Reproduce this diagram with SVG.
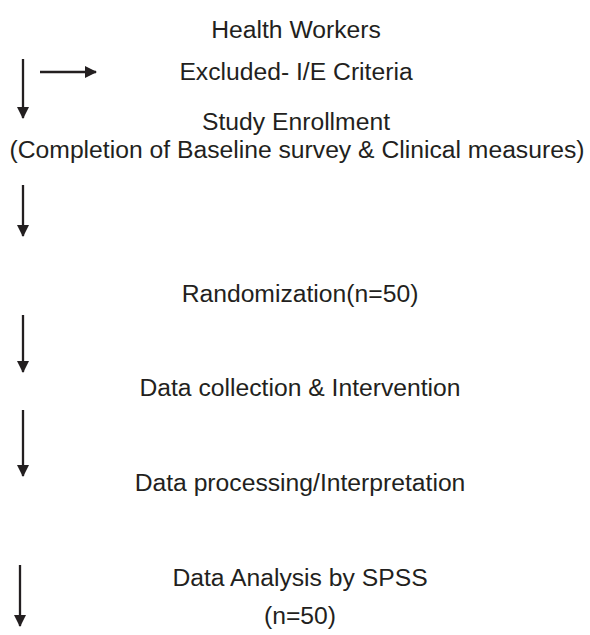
<svg xmlns="http://www.w3.org/2000/svg" width="590" height="635" viewBox="0 0 590 635">
<defs>
<marker id="ah" markerWidth="12" markerHeight="12" refX="11" refY="6" orient="auto" markerUnits="userSpaceOnUse">
<path d="M0,0 L12,6 L0,12 Z" fill="#231f20"/>
</marker>
<style>
text{font-family:"Liberation Sans",Arial,sans-serif;font-size:24.7px;fill:#231f20;text-anchor:middle}
.c{stroke:#231f20;stroke-width:2.3;fill:none}
</style>
</defs>
<rect width="590" height="635" fill="#fff"/>
<g id="n1"><text x="296" y="38">Health Workers</text></g>
<g id="n2"><text x="296" y="80">Excluded- I/E Criteria</text></g>
<g id="n3"><text x="296" y="130">Study Enrollment</text><text x="297" y="158">(Completion of Baseline survey &amp; Clinical measures)</text></g>
<g id="n4"><text x="300" y="302">Randomization(n=50)</text></g>
<g id="n5"><text x="300" y="396">Data collection &amp; Intervention</text></g>
<g id="n6"><text x="300" y="491">Data processing/Interpretation</text></g>
<g id="n7"><text x="300" y="586">Data Analysis by SPSS</text><text x="300" y="624">(n=50)</text></g>
<g id="connectors">
<line class="c" x1="23" y1="59" x2="23" y2="118" marker-end="url(#ah)"/>
<line class="c" x1="40" y1="72" x2="96" y2="72" marker-end="url(#ah)"/>
<line class="c" x1="23" y1="185" x2="23" y2="236" marker-end="url(#ah)"/>
<line class="c" x1="23" y1="315" x2="23" y2="372" marker-end="url(#ah)"/>
<line class="c" x1="23" y1="410" x2="23" y2="476" marker-end="url(#ah)"/>
<line class="c" x1="20" y1="565" x2="20" y2="626" marker-end="url(#ah)"/>
</g>
</svg>
